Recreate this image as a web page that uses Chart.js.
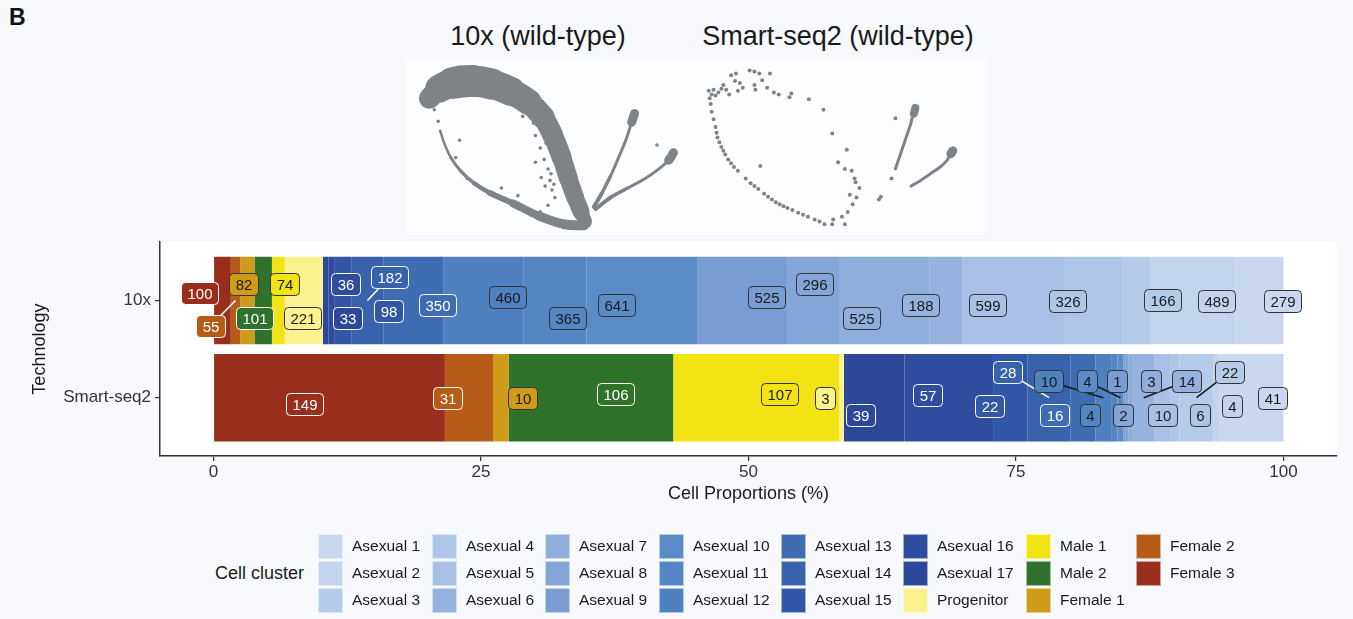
<!DOCTYPE html>
<html>
<head>
<meta charset="utf-8">
<title>Cell cluster proportions by technology</title>
<script src="https://cdn.jsdelivr.net/npm/chart.js@4.4.1/dist/chart.umd.min.js"></script>
<style>
  html, body { margin: 0; padding: 0; }
  body {
    width: 1353px; height: 619px; position: relative; overflow: hidden;
    background: #f7f9fc; color: #1a1a1a;
    font-family: "Liberation Sans", Arial, Helvetica, sans-serif;
  }
  .abs { position: absolute; }
  #panelTag { left: 9px; top: 4px; font-weight: bold; font-size: 23px; color: #111; }
  .umapTitle { top: 21px; font-size: 27px; white-space: nowrap; transform: translateX(-50%); color: #1a1a1a; }
  #umapBg { left: 405px; top: 58px; width: 580px; height: 177px; background: #fcfdfe; }
  #legendTitle { left: 215px; top: 562px; font-size: 18px; line-height: 22px; white-space: nowrap; }
  .key { width: 25px; height: 25px; box-sizing: border-box; border: 1px solid rgba(255,255,255,0.55); }
  .keyText { font-size: 15.5px; line-height: 20px; white-space: nowrap; color: #1a1a1a; }
</style>
</head>
<body>
<div id="panelTag" class="abs">B</div>
<div id="umapBg" class="abs"></div>
<div class="abs umapTitle" style="left:538px">10x (wild-type)</div>
<div class="abs umapTitle" style="left:838px">Smart-seq2 (wild-type)</div>
<canvas id="umap10x" class="abs" width="290" height="177" style="left:405px;top:58px"></canvas>
<canvas id="umapSmartSeq2" class="abs" width="290" height="177" style="left:695px;top:58px"></canvas>
<canvas id="proportions" class="abs" width="1353" height="307" style="left:0;top:228px"></canvas>
<div id="legendTitle" class="abs">Cell cluster</div>
<div id="legend"></div>

<script>
// ---- Bar chart data -------------------------------------------------------
const technologies = ['10x', 'Smart-seq2'];

const clusters = [
  'Asexual 1', 'Asexual 2', 'Asexual 3', 'Asexual 4', 'Asexual 5', 'Asexual 6',
  'Asexual 7', 'Asexual 8', 'Asexual 9', 'Asexual 10', 'Asexual 11', 'Asexual 12',
  'Asexual 13', 'Asexual 14', 'Asexual 15', 'Asexual 16', 'Asexual 17',
  'Progenitor', 'Male 1', 'Male 2', 'Female 1', 'Female 2', 'Female 3'
];

// cells per cluster (same order as clusters)
const cells10x = [279, 489, 166, 326, 599, 188, 525, 296, 525, 641, 365, 460,
                  350, 182, 98, 36, 33, 221, 74, 101, 82, 55, 100];
const cellsSmartSeq2 = [41, 4, 22, 6, 10, 14, 3, 2, 1, 4, 4, 10,
                        16, 28, 22, 57, 39, 3, 107, 106, 10, 31, 149];

const proportionTicks = [0, 25, 50, 75, 100];

// ---- Styles ---------------------------------------------------------------
const clusterColors = [
  '#c9d8f0', '#c2d3ee', '#b5cbea', '#aec6e8', '#a8c0e5', '#96b3df',
  '#8faedc', '#83a5d8', '#799dd3', '#5b8cc7', '#5586c4', '#4f80c0',
  '#3f6db4', '#3962ad', '#3456a6', '#2f4c9e', '#2d4799',
  '#faf28f', '#f2e414', '#2e722c', '#d19b1a', '#b65c18', '#992e1c'
];
const whiteInk = ['Asexual 13', 'Asexual 14', 'Asexual 15', 'Asexual 16', 'Asexual 17',
                  'Male 2', 'Female 2', 'Female 3'];

// repelled label placement per cluster: [proportion %, offset from the bar centre in rows]
const labelPlacement10x = [
  [99.89, 0], [93.73, -0.01], [88.69, 0.005], [79.82, -0.005], [72.35, -0.047], [66.1, -0.047],
  [60.59, -0.18], [56.2, 0.17], [51.72, 0.035], [37.71, -0.047], [33.05, -0.18], [27.49, 0.035],
  [20.91, -0.047], [16.43, 0.24], [16.34, -0.11], [12.32, 0.17], [12.51, -0.18],
  [8.31, -0.18], [6.63, 0.17], [3.83, -0.18], [2.8, 0.17], [-0.28, -0.26], [-1.35, 0.08]
];
const labelPlacementSmartSeq2 = [
  [98.95, 0], [95.22, -0.09], [94.94, 0.26], [92.23, -0.18], [88.69, -0.18], [90.93, 0.17],
  [87.66, 0.17], [85.04, -0.18], [84.48, 0.17], [81.59, 0.17], [81.96, -0.18], [78.04, 0.17],
  [78.6, -0.18], [74.22, 0.26], [72.54, -0.09], [66.75, 0.03], [60.49, -0.18],
  [57.13, 0], [52.93, 0.04], [37.53, 0.04], [28.85, 0], [21.84, 0], [8.5, -0.06]
];
// labels pushed far enough from their segment to get a leader line
const leaders10x = ['Female 2', 'Asexual 14'];
const leadersSmartSeq2 = ['Asexual 14', 'Asexual 12', 'Asexual 10', 'Asexual 6', 'Asexual 3'];

// ---- UMAP embeddings (one UMAP unit per 10 px of panel) --------------------
// 10x: dense trajectory traced as thick paths, plus stray cells
const band10x = [[2.1,13.9],[3.1,14.9],[4.5,15.5],[6.5,15.7],[8.5,15.4],[10.5,14.6],[12.3,13.5],
                 [13.8,11.9],[14.8,10.0],[15.7,7.7],[16.4,5.5],[17.1,3.5],[17.7,2.0],[18.1,1.0]];
const band10xWidth = [21, 28, 32, 31, 29, 26, 23, 21, 20, 19, 18, 17, 14];
const arc10x = [[18.0,0.6],[16.0,0.7],[13.3,1.6],[10.7,2.9],[8.3,4.0],[6.7,5.0],[5.3,6.3],
                [4.3,7.7],[3.7,9.0],[3.2,10.5]];
const arc10xWidth = [10, 9, 8, 6, 4.5, 3.5, 3, 2.5, 2.5];
const male10x = [[19.0,2.5],[19.8,3.9],[20.7,5.7],[21.6,7.8],[22.4,9.8],[22.9,11.4],[23.2,12.3]];
const female10x = [[19.2,2.3],[20.7,3.5],[22.5,4.5],[24.3,5.5],[25.7,6.5],[26.7,7.4],[27.2,8.2]];
const branchWidth = [4, 3.5, 3, 3, 3, 9];
const stray10x = [[2.6,12.7],[3.0,11.5],[5.2,9.5],[4.8,7.7],[6.0,5.5],[9.5,4.5],[11.2,3.7],[11.8,2.5],
                  [13.0,10.0],[13.5,8.7],[13.0,7.2],[14.3,6.5],[14.5,5.3],[14.0,4.7],[14.7,4.3],
                  [11.7,12.0],[25.5,9.0],[13.9,7.5],[15.0,3.5],[14.3,2.7],[13.5,2.0],[12.5,1.7],
                  [14.1,9.2],[14.6,6.0],[13.6,5.6],[12.8,11.3],[14.9,4.9]];

// Smart-seq2: individual cells
const cellsSS2 = [
  [1.0,14.7],[1.3,14.3],[1.5,14.8],[1.7,14.2],[2.0,14.5],[2.3,14.9],[2.5,15.3],[2.8,14.8],[3.1,14.3],
  [3.3,16.3],[3.8,16.5],[3.7,15.7],[4.2,15.5],[4.5,15.0],[4.0,14.7],[5.2,16.8],[5.7,16.7],[6.2,16.5],
  [6.5,15.8],[5.7,15.3],[5.8,14.8],[7.3,16.5],[7.0,15.0],[7.7,14.5],[8.2,14.3],[9.3,14.0],[9.5,14.4],
  [11.3,13.8],[12.8,12.7],[13.7,10.2],[15.2,8.5],[14.3,7.2],[15.0,6.5],[15.7,6.3],[16.0,5.5],[16.1,5.1],
  [16.5,4.5],[15.5,3.8],[16.2,3.5],[15.8,2.8],[15.3,2.0],[14.7,1.5],[15.0,0.7],[13.8,1.2],[13.7,0.7],
  [6.3,6.8],[20.2,11.8],[19.8,5.5],[18.5,3.3],[18.7,3.6],
  [1.1,13.9],[1.2,13.3],[1.3,12.5],[1.5,11.7],[1.7,10.9],[1.8,10.3],[1.9,9.8],[2.1,9.3],[2.3,8.8],
  [2.5,8.4],[2.7,8.0],[3.0,7.5],[3.3,7.1],[3.6,6.7],[4.0,6.3],[4.8,5.5],[5.3,5.0],[5.7,4.7],[6.1,4.4],
  [6.7,3.9],[7.1,3.6],[7.5,3.3],[7.9,3.0],[8.3,2.8],[8.7,2.6],[9.1,2.4],[9.6,2.2],[10.2,1.9],[10.7,1.7],
  [11.2,1.5],[11.9,1.2],[12.4,1.0],[12.9,0.7]
];
const maleSS2 = [[20.2,6.5],[20.4,7.1],[20.6,7.7],[20.8,8.3],[21.0,8.9],[21.2,9.5],[21.4,10.1],
                 [21.6,10.7],[21.8,11.3],[21.9,11.8],[22.1,12.3],[22.25,12.9]];
const maleSS2Width = [3, 3, 3, 3, 3, 3, 3, 3, 3, 3, 8];
const femaleSS2 = [[21.8,4.7],[22.8,5.3],[23.8,6.0],[24.8,6.7],[25.5,7.4],[25.9,8.1],[26.1,8.4]];
const femaleSS2Width = [3, 3, 3, 3, 3, 9];

const umapGrey = '#808386';
const FONT = '"Liberation Sans", Arial, Helvetica, sans-serif';

// ---- UMAP panels ------------------------------------------------------------
const toXY = pts => pts.map(([x, y]) => ({ x, y }));
function pathSet(points, widths) {
  return {
    data: toXY(points), showLine: true, pointRadius: 0, borderColor: umapGrey,
    borderWidth: 1, borderCapStyle: 'round', borderJoinStyle: 'round', tension: 0.25,
    segment: { borderWidth: c => widths[c.p0DataIndex] }
  };
}
function cellSet(points, r) {
  return { data: toXY(points), showLine: false, pointRadius: r, pointBorderWidth: 0,
           pointBackgroundColor: umapGrey };
}
function umapChart(id, datasets) {
  return new Chart(document.getElementById(id), {
    type: 'scatter',
    data: { datasets },
    options: {
      responsive: false, animation: false, events: [],
      layout: { padding: 0 },
      plugins: { legend: { display: false }, tooltip: { enabled: false } },
      scales: {
        x: { type: 'linear', min: 0, max: 29, display: false },
        y: { type: 'linear', min: 0, max: 17.7, display: false }
      }
    }
  });
}
umapChart('umap10x', [
  pathSet(band10x, band10xWidth), pathSet(arc10x, arc10xWidth),
  pathSet(male10x, branchWidth), pathSet(female10x, branchWidth), cellSet(stray10x, 1.8)
]);
umapChart('umapSmartSeq2', [
  pathSet(maleSS2, maleSS2Width), pathSet(femaleSS2, femaleSS2Width), cellSet(cellsSS2, 2)
]);

// ---- Stacked proportion bars ----------------------------------------------------
const cellCounts = [cells10x, cellsSmartSeq2];
const totals = cellCounts.map(c => c.reduce((a, b) => a + b, 0));
const placements = [labelPlacement10x, labelPlacementSmartSeq2];
const leaders = [leaders10x, leadersSmartSeq2];
const rowValue = ti => technologies.length - ti;
const inkFor = name => whiteInk.includes(name) ? '#ffffff' : '#1a1a1a';
const edgeFor = name => whiteInk.includes(name) ? '#ffffff' : '#333333';

// stacked left to right from Female 3 to Asexual 1
const stackOrder = clusters.map((_, i) => i).reverse();
const datasets = stackOrder.map(ci => ({
  label: clusters[ci],
  data: technologies.map((_, ti) => ({ x: cellCounts[ti][ci] / totals[ti] * 100, y: rowValue(ti) })),
  backgroundColor: clusterColors[ci],
  borderWidth: 0,
  categoryPercentage: 0.9,
  barPercentage: 1
}));

const panelBackground = {
  id: 'panelBackground',
  beforeDraw(chart) {
    const { ctx, chartArea: a } = chart;
    ctx.save();
    ctx.fillStyle = '#ffffff';
    ctx.fillRect(a.left, a.top, a.right - a.left, a.bottom - a.top);
    ctx.restore();
  }
};

const countLabels = {
  id: 'countLabels',
  afterDatasetsDraw(chart) {
    const { ctx, scales: { x, y } } = chart;
    ctx.save();
    ctx.font = '15px ' + FONT;
    ctx.textAlign = 'center';
    ctx.textBaseline = 'middle';
    technologies.forEach((tech, ti) => {
      const row = rowValue(ti);
      const centre = ci => {
        const bar = chart.getDatasetMeta(stackOrder.indexOf(ci)).data[ti];
        return { px: (bar.x + bar.base) / 2, py: bar.y };
      };
      const spot = ci => ({
        lx: x.getPixelForValue(placements[ti][ci][0]),
        ly: y.getPixelForValue(row + placements[ti][ci][1])
      });
      // leader lines underneath the labels
      clusters.forEach((name, ci) => {
        if (!leaders[ti].includes(name)) return;
        const c = centre(ci), s = spot(ci);
        ctx.strokeStyle = inkFor(name);
        ctx.lineWidth = 1.6;
        ctx.beginPath();
        ctx.moveTo(c.px, c.py);
        ctx.lineTo(s.lx, s.ly);
        ctx.stroke();
      });
      clusters.forEach((name, ci) => {
        const s = spot(ci);
        const text = String(cellCounts[ti][ci]);
        const w = Math.round(ctx.measureText(text).width + 12), h = 22;
        const bx = Math.round(s.lx - w / 2) + 0.5, by = Math.round(s.ly - h / 2) + 0.5;
        ctx.beginPath();
        ctx.roundRect(bx, by, w, h, 4);
        ctx.fillStyle = clusterColors[ci];
        ctx.fill();
        ctx.lineWidth = 1;
        ctx.strokeStyle = edgeFor(name);
        ctx.stroke();
        ctx.fillStyle = inkFor(name);
        ctx.fillText(text, bx + w / 2, by + h / 2 + 1);
      });
    });
    ctx.restore();
  }
};

new Chart(document.getElementById('proportions'), {
  type: 'bar',
  data: { datasets },
  plugins: [panelBackground, countLabels],
  options: {
    indexAxis: 'y',
    responsive: false, animation: false, events: [],
    layout: { padding: { top: 0, right: 16, bottom: 0, left: 0 } },
    plugins: { legend: { display: false }, tooltip: { enabled: false } },
    scales: {
      x: {
        type: 'linear', stacked: true, min: -5, max: 105, offset: false,
        afterBuildTicks: s => { s.ticks = proportionTicks.map(v => ({ value: v })); },
        afterFit: s => { s.height = 79; },
        grid: { offset: false, drawOnChartArea: false, drawTicks: true, tickLength: 5, color: '#333333', lineWidth: 1.2 },
        border: { display: true, color: '#333333', width: 1.5 },
        ticks: { font: { family: FONT, size: 17 }, color: '#333333', padding: 1, maxRotation: 0, autoSkip: false },
        title: { display: true, text: 'Cell Proportions (%)', color: '#1a1a1a',
                 font: { family: FONT, size: 18 }, padding: { top: 0, bottom: 30 } }
      },
      y: {
        type: 'linear', stacked: true, min: 0.4, max: 2.6, offset: false,
        afterBuildTicks: s => { s.ticks = technologies.map((_, ti) => ({ value: rowValue(ti) })).reverse(); },
        afterFit: s => { s.width = 160; },
        grid: { offset: false, drawOnChartArea: false, drawTicks: true, tickLength: 5, color: '#333333', lineWidth: 1.2 },
        border: { display: true, color: '#333333', width: 1.5 },
        ticks: { font: { family: FONT, size: 17 }, color: '#333333', padding: 4,
                 callback: v => technologies[technologies.length - v] },
        title: { display: true, text: 'Technology', color: '#1a1a1a',
                 font: { family: FONT, size: 18 }, padding: { top: 29, bottom: 0 } }
      }
    }
  }
});

// ---- Legend (three rows, filled column by column) -------------------------------
const legendColumns = [318, 432, 545, 659, 781, 903, 1026, 1136];
const legendRows = [546, 573, 600];
const legend = document.getElementById('legend');
clusters.forEach((name, ci) => {
  const col = Math.floor(ci / legendRows.length), row = ci % legendRows.length;
  const key = document.createElement('div');
  key.className = 'abs key';
  key.style.left = legendColumns[col] + 'px';
  key.style.top = (legendRows[row] - 12.5) + 'px';
  key.style.background = clusterColors[ci];
  legend.appendChild(key);
  const label = document.createElement('div');
  label.className = 'abs keyText';
  label.textContent = name;
  label.style.left = (legendColumns[col] + 34) + 'px';
  label.style.top = (legendRows[row] - 10) + 'px';
  legend.appendChild(label);
});
</script>
</body>
</html>
